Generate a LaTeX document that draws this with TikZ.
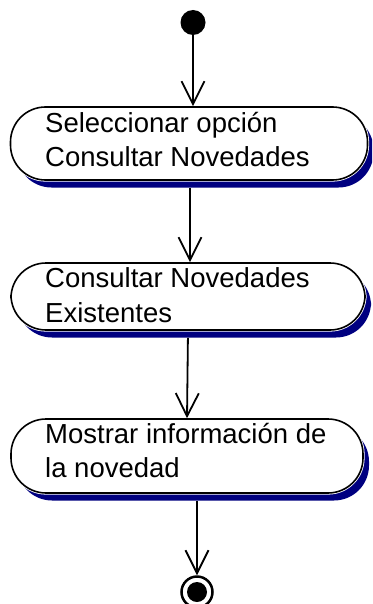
\documentclass[tikz,border=0pt]{standalone}
\usepackage{fontspec}
\setmainfont{Liberation Sans}
\usetikzlibrary{arrows.meta,shadows}
\definecolor{shadownavy}{HTML}{000080}
\begin{document}
\begin{tikzpicture}[x=1pt,y=-1pt,
  actbox/.style={rectangle, rounded corners=35pt, fill=white,
    general shadow={fill=shadownavy, shadow xshift=6pt, shadow yshift=-7.5pt},
    preaction={draw=white, line width=3.2pt},
    draw=black, line width=1.6pt, inner sep=0pt},
  lbl/.style={anchor=base west, inner sep=0pt, font=\fontsize{27.5}{34}\selectfont},
  flow/.style={draw=black, line width=1.8pt, -{Straight Barb[length=23pt,width=23pt]}},
  startnode/.style={circle, fill=black, minimum size=25pt, inner sep=0pt},
]
\useasboundingbox (0,0) rectangle (372,604);
\clip (0,0) rectangle (372,604);

\node[startnode] (start) at (193,22.5) {};

\node[actbox, minimum width=357pt, minimum height=73pt] (b1) at (189,143.5) {};
\node[lbl] (t1a) at (45,133) {Seleccionar opción};
\node[lbl] (t1b) at (45,167) {Consultar Novedades};

\node[actbox, minimum width=354pt, minimum height=67pt] (b2) at (188,296.5) {};
\node[lbl] (t2a) at (45,287) {Consultar Novedades};
\node[lbl] (t2b) at (45,322) {Existentes};

\node[actbox, minimum width=352pt, minimum height=74pt] (b3) at (187,456) {};
\node[lbl] (t3a) at (45,443) {Mostrar información de};
\node[lbl] (t3b) at (45,477) {la novedad};

\node[circle, draw=black, line width=2.5pt, fill=white, minimum size=31pt, inner sep=0pt] (end) at (197,592) {};
\node[circle, fill=black, minimum size=20pt, inner sep=0pt] (endin) at (end.center) {};

\coordinate (c12) at (190,0);
\draw[flow] (start) -- (start |- b1.north);
\draw[flow, shorten <=7pt] (c12 |- b1.south) -- (c12 |- b2.north);
\draw[flow, shorten <=7pt] (b2.south) -- (b3.north);
\draw[flow, shorten <=7pt] (end |- b3.south) -- (end.north);
\end{tikzpicture}
\end{document}
